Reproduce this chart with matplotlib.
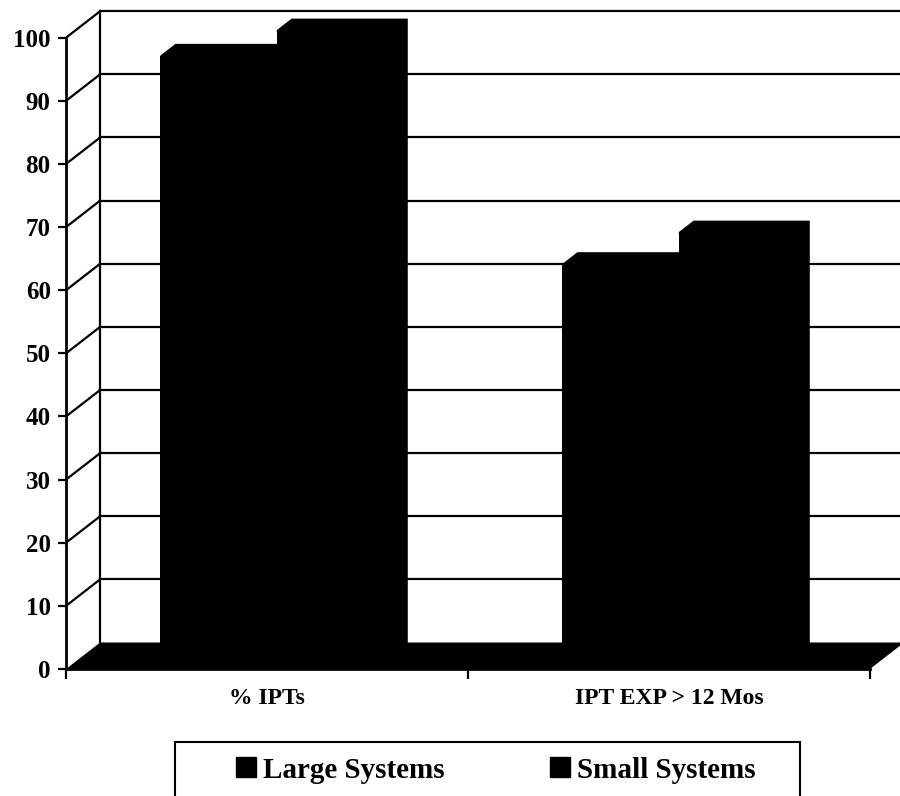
import matplotlib
matplotlib.use("Agg")
import matplotlib.pyplot as plt
from matplotlib.patches import Patch, Rectangle

# chart data
categories = ["% IPTs", "IPT EXP > 12 Mos"]
series_names = ["Large Systems", "Small Systems"]
large_systems = [96, 63]
small_systems = [100, 68]
y_ticks = list(range(0, 101, 10))

plt.rcParams['font.family'] = ['Liberation Serif', 'DejaVu Serif']
plt.rcParams['font.weight'] = 'bold'

fig = plt.figure(figsize=(9, 7.96), dpi=100)
ax = fig.add_axes([66 / 900, 127 / 796, 834 / 900, 669 / 796])
ax.set_xlim(0, 834 / 402)
ax.set_ylim(0, 669 / 6.313)

# fake 3d: depth of the walls and of the bars, in data units
wall_dx, wall_dy = 0.085, 4.2
bar_front, bar_depth = 0.28, 0.44
bar_w = 0.289
lw = 1.6

# side wall diagonals and back wall gridlines
for v in y_ticks[1:]:
    ax.plot([0, wall_dx], [v, v + wall_dy], color='k', lw=lw, zorder=1)
    ax.plot([wall_dx, 2.3], [v + wall_dy, v + wall_dy], color='k', lw=lw, zorder=1)
ax.plot([wall_dx, wall_dx], [wall_dy, 100 + wall_dy], color='k', lw=lw, zorder=1)

# floor
ax.fill([0, 2, 2 + wall_dx, wall_dx], [0, 0, wall_dy, wall_dy], color='k', lw=0, zorder=2)

# bars: front face + top/side faces
ox, oy = bar_front * wall_dx, bar_front * wall_dy
bx, by = bar_depth * wall_dx, bar_depth * wall_dy
for i, cat in enumerate(categories):
    centre = i + 0.5 + ox
    for j, vals in enumerate([large_systems, small_systems]):
        x0 = centre - bar_w + j * bar_w
        h = vals[i]
        ax.bar(x0, h, width=bar_w, bottom=oy, align='edge', color='k', lw=0, zorder=4)
        ax.fill([x0, x0 + bx, x0 + bar_w + bx, x0 + bar_w + bx, x0 + bar_w],
                [oy + h, oy + h + by, oy + h + by, oy + by, oy],
                color='k', lw=0, zorder=4)

for s in ['top', 'right']:
    ax.spines[s].set_visible(False)
ax.spines['left'].set_bounds(0, 100)
ax.spines['bottom'].set_bounds(0, 2)
ax.spines['left'].set_linewidth(2)
ax.spines['bottom'].set_linewidth(2)

ax.set_yticks(y_ticks)
ax.tick_params(axis='y', length=6, width=1.6, pad=5, labelsize=18)
ax.set_xticks([0, 1, 2])
ax.set_xticklabels([])
ax.tick_params(axis='x', which='major', length=7, width=1.6)
ax.set_xticks([0.5, 1.5], minor=True)
ax.set_xticklabels(categories, minor=True)
ax.tick_params(axis='x', which='minor', length=0, pad=14, labelsize=17)
ax.patch.set_visible(False)

# legend box runs off the bottom of the figure
fig.patches.append(Rectangle((175 / 900, -0.05), (800 - 175) / 900, (796 - 742) / 796 + 0.05,
                             transform=fig.transFigure, fill=False, edgecolor='k', lw=1.5))
handles = [Patch(facecolor='k', edgecolor='k') for _ in series_names]
fig.legend(handles, series_names, loc='center left', bbox_to_anchor=(236 / 900, 26 / 796),
           ncol=2, frameon=False, fontsize=21, handlelength=0.68, handleheight=0.68,
           handletextpad=0.25, columnspacing=3.6, borderaxespad=0, borderpad=0)

fig.savefig("out.png", dpi=100)
